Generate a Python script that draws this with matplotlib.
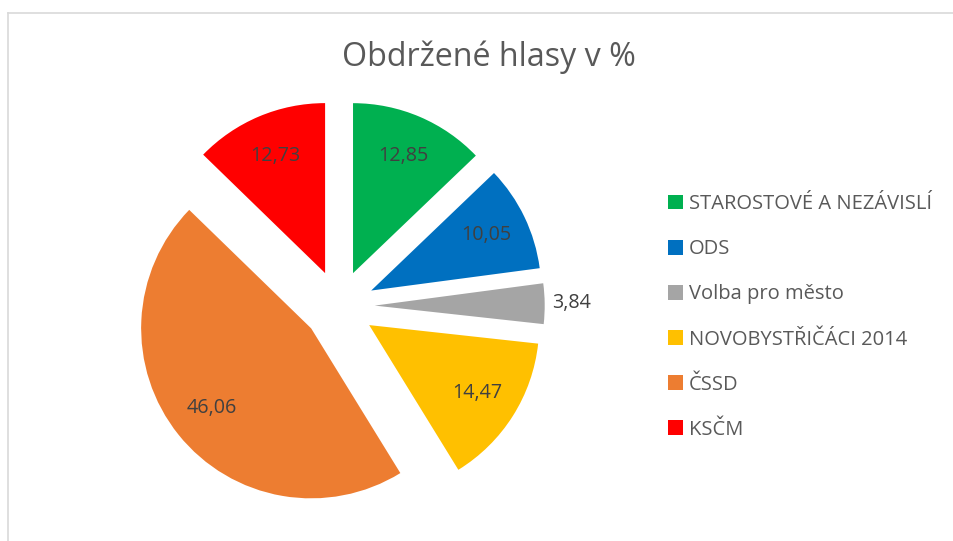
import numpy as np
import matplotlib
matplotlib.use("Agg")
import matplotlib.pyplot as plt
from matplotlib.lines import Line2D
from matplotlib.patches import Patch

parties = ["STAROSTOVÉ A NEZÁVISLÍ", "ODS", "Volba pro město",
           "NOVOBYSTŘIČÁCI 2014", "ČSSD", "KSČM"]
votes = [12.85, 10.05, 3.84, 14.47, 46.06, 12.73]
colors = ["#00b050", "#0070c0", "#a5a5a5", "#ffc000", "#ed7d31", "#ff0000"]
title = "Obdržené hlasy v %"

plt.rcParams['font.family'] = ['Open Sans', 'DejaVu Sans']

W, H = 954, 541
fig = plt.figure(figsize=(W / 100, H / 100), dpi=100)

# pie geometry in pixels: centre and radius
cx, cy, R = 339, 306, 170
ax = fig.add_axes([0, 0, 1, 1])
wedges, _ = ax.pie(votes, colors=colors, startangle=90, counterclock=False,
                   explode=[0.21] * len(votes), radius=1.0,
                   wedgeprops=dict(linewidth=0))
ax.set_aspect('auto')
ax.set_xlim(-cx / R, (W - cx) / R)
ax.set_ylim(-(H - cy) / R, cy / R)
ax.axis('off')

# value labels
for w, v in zip(wedges, votes):
    mid = np.deg2rad((w.theta1 + w.theta2) / 2)
    dist = 1.16 if v < 5 else 0.75
    x = w.center[0] + dist * np.cos(mid)
    y = w.center[1] + dist * np.sin(mid)
    ax.text(x, y, f"{v:.2f}".replace(".", ","), ha='center', va='center',
            fontsize=14.2, color='#404040')

fig.text(489 / W, 1 - 57 / H, title, ha='center', va='center',
         fontsize=23.2, color='#595959')

handles = [Patch(facecolor=c, edgecolor='none') for c in colors]
fig.legend(handles, parties, loc='upper left', bbox_to_anchor=(668 / W, 1 - 194 / H),
           frameon=False, fontsize=14.5, labelcolor='#595959',
           handlelength=0.75, handleheight=0.75, handletextpad=0.3,
           labelspacing=1.25, borderpad=0, borderaxespad=0)

# chart border (top and left edges visible)
fig.add_artist(Line2D([8.5 / W, 1], [1 - 12.5 / H] * 2, color='#d9d9d9', lw=1.2))
fig.add_artist(Line2D([8.5 / W] * 2, [0, 1 - 12.5 / H], color='#d9d9d9', lw=1.2))

fig.savefig("out.png", dpi=100, facecolor='white')
